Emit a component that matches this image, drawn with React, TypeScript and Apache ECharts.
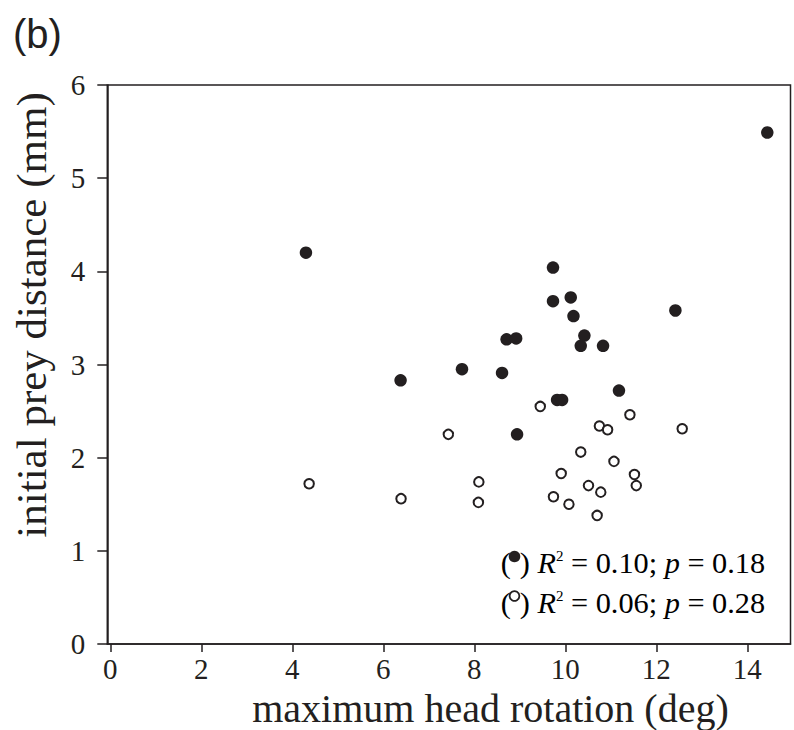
import React, { useEffect, useRef } from "react";
import * as echarts from "echarts";

const xTicks = [0, 2, 4, 6, 8, 10, 12, 14];

// filled circles: [max head rotation (deg), initial prey distance (mm)]
const filledX = [4.30, 6.38, 7.73, 8.61, 8.71, 8.92, 8.94, 9.73, 9.73, 10.12, 10.18, 10.42, 10.34, 9.82, 9.93, 10.83, 12.42, 11.18, 14.44];
const filledY = [4.20, 2.83, 2.95, 2.91, 3.27, 3.28, 2.25, 4.04, 3.68, 3.72, 3.52, 3.31, 3.20, 2.62, 2.62, 3.20, 3.58, 2.72, 5.49];

// open circles
const openX = [4.37, 6.39, 7.43, 8.10, 8.09, 9.45, 9.74, 10.08, 9.91, 10.34, 10.51, 10.70, 10.78, 10.75, 10.93, 11.42, 12.57, 11.07, 11.52, 11.56];
const openY = [1.72, 1.56, 2.25, 1.74, 1.52, 2.55, 1.58, 1.50, 1.83, 2.06, 1.70, 1.38, 1.63, 2.34, 2.30, 2.46, 2.31, 1.96, 1.82, 1.70];

const legendLines = [
  { r2: "0.10", p: "0.18" },
  { r2: "0.06", p: "0.28" },
];

const INK = "#231f20";
const SERIF = "Liberation Serif";

export default function App() {
  const ref = useRef<HTMLDivElement>(null);
  useEffect(() => {
    if (!ref.current) return;
    const chart = echarts.init(ref.current, undefined, { renderer: "svg" });
    const LF = 30.3;
    const rich = {
      n: { fontSize: LF, fontFamily: SERIF, color: INK },
      g: { fontSize: LF, fontFamily: SERIF, color: INK, padding: [0, 0, 0, 9] },
      i: { fontSize: LF, fontFamily: SERIF, color: INK, fontStyle: "italic" },
      s: { fontSize: 15, fontFamily: SERIF, color: INK, verticalAlign: "top" },
    };
    const legendText = (l: { r2: string; p: string }) =>
      `{n|(}{g|)}{i| R}{s|2}{n| = ${l.r2}; }{i|p}{n| = ${l.p}}`;

    chart.setOption({
      animation: false,
      textStyle: { fontFamily: SERIF, color: INK },
      grid: {
        left: 107.3,
        right: 3.5,
        top: 85,
        bottom: 86,
        show: true,
        borderColor: INK,
        borderWidth: 1.5,
        backgroundColor: "transparent",
      },
      xAxis: {
        type: "value",
        min: -0.066,
        max: 14.95,
        axisLine: { show: true, onZero: false, lineStyle: { color: INK, width: 1.5 } },
        axisTick: { show: true, length: 8, customValues: xTicks, lineStyle: { color: INK, width: 1.5 } },
        axisLabel: {
          customValues: xTicks,
          fontSize: 29,
          lineHeight: 26,
          fontFamily: SERIF,
          color: INK,
          margin: 12,
        },
        splitLine: { show: false },
      },
      yAxis: {
        type: "value",
        min: 0,
        max: 6,
        interval: 1,
        axisLine: { show: true, onZero: false, lineStyle: { color: INK, width: 1.5 } },
        axisTick: { show: true, length: 10, lineStyle: { color: INK, width: 1.5 } },
        axisLabel: { fontSize: 29, fontFamily: SERIF, color: INK, margin: 22 },
        splitLine: { show: false },
      },
      series: [
        {
          type: "scatter",
          data: filledX.map((x, i) => [x, filledY[i]]),
          symbol: "circle",
          symbolSize: 12.5,
          itemStyle: { color: INK, opacity: 1 },
        },
        {
          type: "scatter",
          data: openX.map((x, i) => [x, openY[i]]),
          symbol: "circle",
          symbolSize: 9.5,
          itemStyle: { color: "#ffffff", borderColor: INK, borderWidth: 2, opacity: 1 },
        },
      ],
      graphic: [
        {
          type: "text",
          left: 13,
          top: 14,
          style: { text: "(b)", fontSize: 40, fontFamily: "Liberation Sans", fill: INK },
        },
        {
          type: "text",
          x: 31.5,
          y: 315,
          rotation: Math.PI / 2,
          style: {
            text: "initial prey distance (mm)",
            fontSize: 43,
            fontFamily: SERIF,
            fill: INK,
            align: "center",
            verticalAlign: "middle",
          },
        },
        {
          type: "text",
          x: 490.5,
          y: 708,
          style: {
            text: "maximum head rotation (deg)",
            fontSize: 40,
            lineHeight: 34,
            fontFamily: SERIF,
            fill: INK,
            align: "center",
            verticalAlign: "middle",
          },
        },
        {
          type: "text",
          x: 500.7,
          y: 563,
          style: { text: legendText(legendLines[0]), rich, align: "left", verticalAlign: "middle" },
        },
        {
          type: "text",
          x: 500.7,
          y: 603,
          style: { text: legendText(legendLines[1]), rich, align: "left", verticalAlign: "middle" },
        },
        {
          type: "circle",
          shape: { cx: 514.5, cy: 556.5, r: 5.8 },
          style: { fill: INK },
        },
        {
          type: "circle",
          shape: { cx: 514.5, cy: 596, r: 4.9 },
          style: { fill: "#ffffff", stroke: INK, lineWidth: 1.8 },
        },
      ],
    });
    return () => chart.dispose();
  }, []);
  return (
    <div
      ref={ref}
      style={{ position: "absolute", left: 0, top: 0, width: 794, height: 730 }}
    />
  );
}
